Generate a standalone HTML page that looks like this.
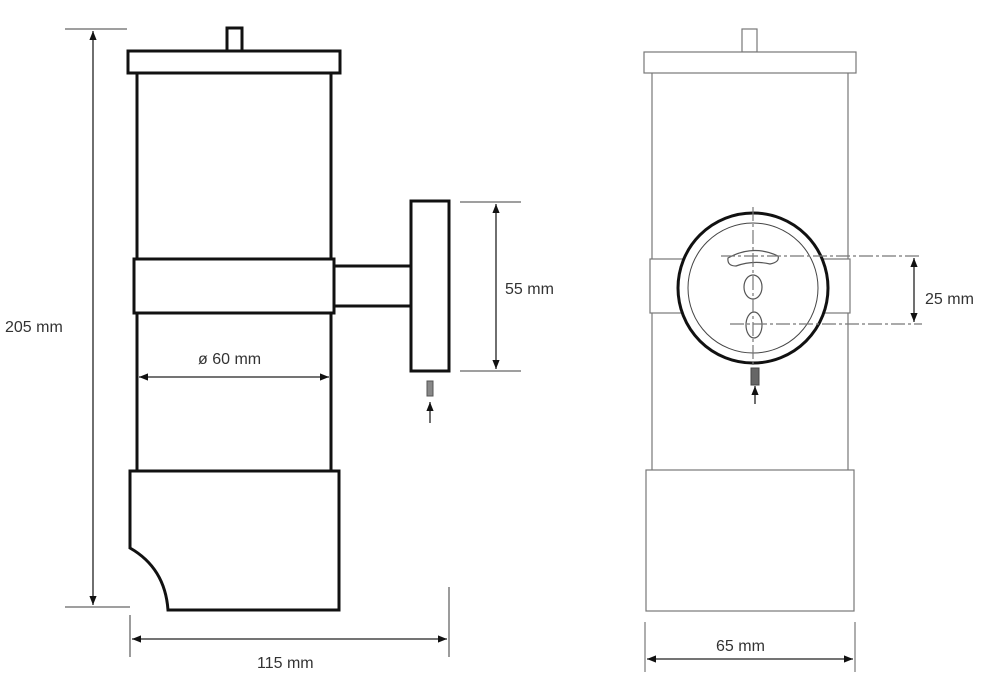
<!DOCTYPE html>
<html><head><meta charset="utf-8"><style>
html,body{margin:0;padding:0;background:#fff}
svg{display:block}
text{font-family:"Liberation Sans",sans-serif;font-size:16px;fill:#333}
</style></head><body>
<svg width="995" height="684" viewBox="0 0 995 684" xmlns="http://www.w3.org/2000/svg">
<defs>
<marker id="a" viewBox="0 0 10 10" refX="10" refY="5" markerWidth="7" markerHeight="7" orient="auto-start-reverse"><path d="M0,1 L10,5 L0,9z" fill="#111"/></marker>
</defs>
<!-- LEFT VIEW -->
<g stroke="#666" stroke-width="1.3" fill="none">
<line x1="65" y1="29" x2="127" y2="29"/>
<line x1="65" y1="607" x2="130" y2="607"/>
<line x1="130" y1="615" x2="130" y2="657"/>
<line x1="449" y1="587" x2="449" y2="657"/>
<line x1="460" y1="202" x2="521" y2="202"/>
<line x1="460" y1="371" x2="521" y2="371"/>
</g>
<g stroke="#222" stroke-width="1.3" fill="none">
<line x1="93" y1="31" x2="93" y2="605" marker-start="url(#a)" marker-end="url(#a)"/>
<line x1="132" y1="639" x2="447" y2="639" marker-start="url(#a)" marker-end="url(#a)"/>
<line x1="496" y1="204" x2="496" y2="369" marker-start="url(#a)" marker-end="url(#a)"/>
<line x1="139" y1="377" x2="329" y2="377" marker-start="url(#a)" marker-end="url(#a)"/>
<line x1="430" y1="423" x2="430" y2="402" marker-end="url(#a)"/>
</g>
<g stroke="#111" stroke-width="3" fill="#fff">
<rect x="227" y="28" width="15" height="23"/>
<rect x="128" y="51" width="212" height="22"/>
<line x1="137" y1="73" x2="137" y2="471"/>
<line x1="331" y1="73" x2="331" y2="471"/>
<rect x="134" y="259" width="200" height="54"/>
<line x1="334" y1="266" x2="411" y2="266"/>
<line x1="334" y1="306" x2="411" y2="306"/>
<rect x="411" y="201" width="38" height="170"/>
<path d="M130,471 L339,471 L339,610 L168,610 Q165,568 130,548 Z"/>
</g>
<rect x="427" y="381" width="6" height="15" fill="#888" stroke="#555"/>
<text x="5" y="332">205 mm</text>
<text x="198" y="364">ø 60 mm</text>
<text x="505" y="294">55 mm</text>
<text x="257" y="668">115 mm</text>
<!-- RIGHT VIEW -->
<g stroke="#777" stroke-width="1.2" fill="#fff">
<rect x="742" y="29" width="15" height="23"/>
<rect x="644" y="52" width="212" height="21"/>
<line x1="652" y1="73" x2="652" y2="470"/>
<line x1="848" y1="73" x2="848" y2="470"/>
<rect x="650" y="259" width="200" height="54"/>
<rect x="646" y="470" width="208" height="141"/>
<line x1="645" y1="622" x2="645" y2="672"/>
<line x1="855" y1="622" x2="855" y2="672"/>
</g>
<circle cx="753" cy="288" r="75" fill="#fff" stroke="#111" stroke-width="3"/>
<circle cx="753" cy="288" r="65" fill="none" stroke="#444" stroke-width="1"/>
<g stroke="#555" stroke-width="1.2" fill="none">
<path d="M728,258 Q753,244 778,256 Q780,262 770,264 Q753,260 736,266 Q727,266 728,258Z"/>
<ellipse cx="753" cy="287" rx="9" ry="12"/>
<ellipse cx="754" cy="325" rx="8" ry="13"/>
</g>
<g stroke="#777" stroke-width="1.2" stroke-dasharray="14,3,3,3" fill="none">
<line x1="753" y1="207" x2="753" y2="370"/>
<line x1="721" y1="256" x2="922" y2="256"/>
<line x1="730" y1="324" x2="922" y2="324"/>
</g>
<g stroke="#222" stroke-width="1.3">
<line x1="914" y1="258" x2="914" y2="322" marker-start="url(#a)" marker-end="url(#a)"/>
<line x1="647" y1="659" x2="853" y2="659" marker-start="url(#a)" marker-end="url(#a)"/>
<line x1="755" y1="404" x2="755" y2="386" marker-end="url(#a)"/>
</g>
<rect x="751" y="368" width="8" height="17" fill="#666" stroke="#444"/>
<text x="925" y="304">25 mm</text>
<text x="716" y="651">65 mm</text>
</svg>
</body></html>
